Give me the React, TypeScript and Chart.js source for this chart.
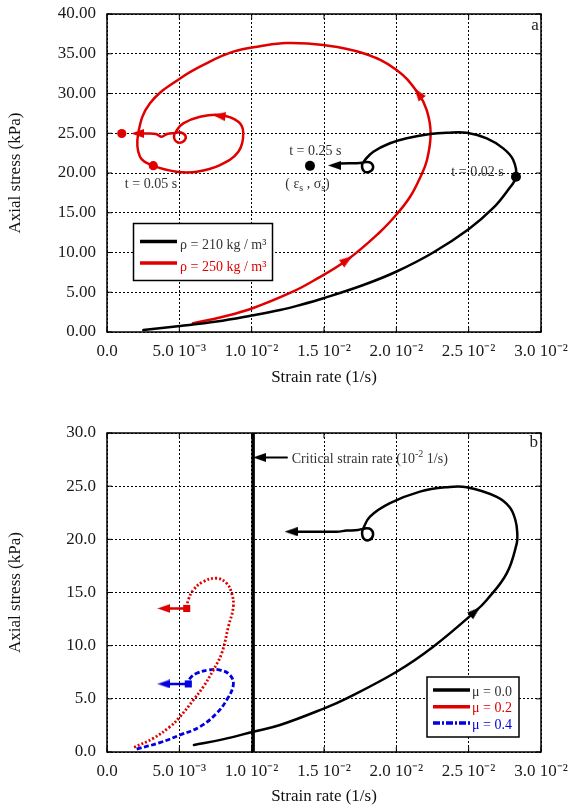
import React, { useEffect, useRef } from 'react';
import { Chart, registerables } from 'chart.js';

Chart.register(...registerables);

const FONT = "'Liberation Serif', 'Times New Roman', serif";
const RED = '#e00000';
const BLUE = '#0000e0';
const BLACK = '#000000';

// ---------- axis ticks ----------
const xTickValues = [0, 0.005, 0.01, 0.015, 0.02, 0.025, 0.03];
const xTickLabels = ['0.0', '5.0 10⁻³', '1.0 10⁻²', '1.5 10⁻²', '2.0 10⁻²', '2.5 10⁻²', '3.0 10⁻²'];
const yTickValuesA = [0, 5, 10, 15, 20, 25, 30, 35, 40];
const yTickLabelsA = ['0.00', '5.00', '10.00', '15.00', '20.00', '25.00', '30.00', '35.00', '40.00'];
const yTickValuesB = [0, 5, 10, 15, 20, 25, 30];
const yTickLabelsB = ['0.0', '5.0', '10.0', '15.0', '20.0', '25.0', '30.0'];

// ---------- panel a ----------
const rho210X = [0.00251, 0.00505, 0.00758, 0.01, 0.01196, 0.01334, 0.01502, 0.01772, 0.02002, 0.02255, 0.02502, 0.0267, 0.02772, 0.02827, 0.02808, 0.02739, 0.02625, 0.02486, 0.02348, 0.02233, 0.02072, 0.01956, 0.01841, 0.01783, 0.01763, 0.01776, 0.01811, 0.01839, 0.01825, 0.0179, 0.01749, 0.0161, 0.01573];
const rho210Y = [0.25, 0.75, 1.32, 2.08, 2.77, 3.4, 4.28, 5.91, 7.61, 10.0, 12.96, 15.6, 17.86, 19.53, 21.64, 23.1, 24.36, 25.07, 25.07, 24.9, 24.37, 23.74, 22.68, 21.64, 21.0, 20.25, 20.13, 20.63, 21.26, 21.38, 21.26, 21.19, 20.95];
const rho250X = [0.00594, 0.00795, 0.01002, 0.01265, 0.01424, 0.01659, 0.01887, 0.02004, 0.02094, 0.02163, 0.02212, 0.02237, 0.0221, 0.02152, 0.02002, 0.01772, 0.01495, 0.0124, 0.01058, 0.00873, 0.00684, 0.00505, 0.00297, 0.00216, 0.00228, 0.0032, 0.00482, 0.0062, 0.00781, 0.00908, 0.00942, 0.00908, 0.00781, 0.00643, 0.00527, 0.00484, 0.00463, 0.00491, 0.00532, 0.00543, 0.00511, 0.0047, 0.00415, 0.00378, 0.00339, 0.0027, 0.00211];
const rho250Y = [1.09, 1.89, 2.96, 4.91, 6.42, 9.06, 12.58, 14.84, 16.98, 19.37, 21.64, 25.03, 27.9, 30.0, 32.96, 35.06, 36.1, 36.35, 35.94, 35.26, 33.77, 31.9, 28.77, 25.0, 22.05, 20.92, 20.16, 20.16, 21.0, 22.68, 25.0, 26.45, 27.3, 27.08, 26.25, 25.41, 24.53, 23.84, 24.03, 24.65, 25.09, 25.03, 24.91, 24.57, 24.91, 24.97, 24.97];
const rho210DotX = [0.02827, 0.01403];
const rho210DotY = [19.53, 20.9];
const rho250DotX = [0.0032, 0.00102];
const rho250DotY = [20.92, 24.97];
const rho210ArrowX = [0.01573];
const rho210ArrowY = [20.95];
const rho210ArrowAngle = [-90];
const rho250ArrowX = [0.01659, 0.02152, 0.00774, 0.00211];
const rho250ArrowY = [9.06, 30.0, 27.2, 24.97];
const rho250ArrowAngle = [55, -37, -83, -90];

// ---------- panel b ----------
const mu0X = [0.00601, 0.008, 0.01011, 0.01196, 0.01502, 0.01657, 0.02002, 0.02255, 0.02544, 0.02625, 0.02763, 0.02832, 0.02836, 0.02825, 0.02785, 0.02694, 0.02486, 0.02348, 0.02163, 0.01956, 0.01818, 0.01772, 0.01763, 0.01776, 0.01814, 0.01839, 0.01825, 0.01787, 0.01735, 0.01657, 0.01588, 0.01334, 0.01272];
const mu0Y = [0.66, 1.19, 1.91, 2.54, 4.11, 5.05, 7.55, 9.9, 13.2, 14.3, 16.8, 19.6, 20.57, 21.7, 23.0, 24.0, 24.9, 24.9, 24.49, 23.4, 22.14, 21.04, 20.6, 20.04, 19.94, 20.41, 20.93, 21.03, 20.88, 20.82, 20.72, 20.72, 20.72];
const mu2X = [0.00187, 0.0032, 0.00435, 0.00505, 0.00597, 0.00666, 0.00735, 0.00793, 0.00839, 0.00873, 0.00862, 0.00827, 0.00758, 0.00666, 0.00597, 0.00562, 0.00551];
const mu2Y = [0.44, 1.29, 2.38, 3.32, 4.89, 6.14, 7.71, 9.28, 11.79, 13.67, 14.93, 15.87, 16.34, 16.02, 15.24, 14.3, 13.5];
const mu4X = [0.00205, 0.00366, 0.00505, 0.00643, 0.00758, 0.00827, 0.00873, 0.0085, 0.00781, 0.007, 0.0062, 0.00574, 0.00562];
const mu4Y = [0.28, 0.88, 1.6, 2.38, 3.64, 4.89, 6.3, 7.24, 7.71, 7.71, 7.4, 6.93, 6.4];
const mu2TailX = [0.00551, 0.00394];
const mu2TailY = [13.5, 13.5];
const mu4TailX = [0.00562, 0.00394];
const mu4TailY = [6.4, 6.4];
const criticalX = [0.0101, 0.0101];
const criticalY = [0, 30];
const criticalPointerX = [0.01244, 0.01054];
const criticalPointerY = [27.7, 27.7];
const mu0ArrowX = [0.02544, 0.01272];
const mu0ArrowY = [13.2, 20.72];
const mu0ArrowAngle = [49, -90];
const criticalArrowX = [0.01054];
const criticalArrowY = [27.7];
const mu2ArrowX = [0.00394];
const mu2ArrowY = [13.5];
const mu4ArrowX = [0.00394];
const mu4ArrowY = [6.4];
const leftAngle = [-90];

type Part = [string, string?];
type Note = { x: number; y: number; parts: Part[]; size: number; align: 'left' | 'center' | 'right'; color: string };

const notesA: Note[] = [
  { x: 0.0144, y: 22.77, parts: [['t = 0.25 s']], size: 14, align: 'center', color: '#333' },
  { x: 0.01386, y: 18.6, parts: [['( ε'], ['s', 'sub'], [' , σ'], ['s', 'sub'], [')']], size: 14, align: 'center', color: '#333' },
  { x: 0.02561, y: 20.13, parts: [['t = 0.02 s']], size: 14, align: 'center', color: '#333' },
  { x: 0.00304, y: 18.6, parts: [['t = 0.05 s']], size: 14, align: 'center', color: '#333' },
  { x: 0.02958, y: 38.6, parts: [['a']], size: 17, align: 'center', color: '#222' },
];
const notesB: Note[] = [
  { x: 0.0295, y: 29.07, parts: [['b']], size: 17, align: 'center', color: '#222' },
  { x: 0.01277, y: 27.53, parts: [['Critical strain rate (10'], ['-2', 'sup'], [' 1/s)']], size: 14, align: 'left', color: '#333' },
];

const pts = (xs: number[], ys: number[]) => xs.map((x, i) => ({ x, y: ys[i] }));

function drawRich(ctx: CanvasRenderingContext2D, parts: Part[], x: number, y: number, size: number, color: string, align: string) {
  ctx.save();
  ctx.fillStyle = color;
  ctx.textBaseline = 'middle';
  ctx.textAlign = 'left';
  const fontFor = (k?: string) => `${k ? Math.round(size * 0.68) : size}px ${FONT}`;
  let total = 0;
  for (const [t, k] of parts) {
    ctx.font = fontFor(k);
    total += ctx.measureText(t).width;
  }
  let cx = align === 'center' ? x - total / 2 : align === 'right' ? x - total : x;
  for (const [t, k] of parts) {
    ctx.font = fontFor(k);
    const dy = k === 'sub' ? size * 0.32 : k === 'sup' ? -size * 0.35 : 0;
    ctx.fillText(t, cx, y + dy);
    cx += ctx.measureText(t).width;
  }
  ctx.restore();
}

function makeArrow(color: string) {
  const c = document.createElement('canvas');
  const w = 9;
  const h = 13;
  c.width = w;
  c.height = h;
  const g = c.getContext('2d')!;
  g.fillStyle = color;
  g.beginPath();
  g.moveTo(w / 2, 0);
  g.lineTo(w, h);
  g.lineTo(0, h);
  g.closePath();
  g.fill();
  return c;
}

const framePlugin = {
  id: 'frame',
  afterDatasetsDraw(chart: any) {
    const { ctx, chartArea: a, scales } = chart;
    ctx.save();
    ctx.strokeStyle = '#000';
    ctx.lineWidth = 1;
    const t = 5;
    ctx.beginPath();
    scales.x.ticks.forEach((tk: any) => {
      const px = scales.x.getPixelForValue(tk.value);
      ctx.moveTo(px, a.bottom);
      ctx.lineTo(px, a.bottom - t);
      ctx.moveTo(px, a.top);
      ctx.lineTo(px, a.top + t);
    });
    scales.y.ticks.forEach((tk: any) => {
      const py = scales.y.getPixelForValue(tk.value);
      ctx.moveTo(a.left, py);
      ctx.lineTo(a.left + t, py);
      ctx.moveTo(a.right, py);
      ctx.lineTo(a.right - t, py);
    });
    ctx.stroke();
    ctx.lineWidth = 1.5;
    ctx.strokeRect(a.left, a.top, a.right - a.left, a.bottom - a.top);
    ctx.restore();
  },
};

function makeNotesPlugin(notes: Note[]) {
  return {
    id: 'notes',
    afterDatasetsDraw(chart: any) {
      const { ctx, scales } = chart;
      notes.forEach((n) => {
        drawRich(ctx, n.parts, scales.x.getPixelForValue(n.x), scales.y.getPixelForValue(n.y), n.size, n.color, n.align);
      });
    },
  };
}

type LegendBox = { left: number; top: number; right: number; bottom: number; x0: number; x1: number; textX: number; rows: number[]; textDy: number };

function makeLegendPlugin(box: LegendBox) {
  return {
    id: 'boxLegend',
    afterDraw(chart: any) {
      const { ctx } = chart;
      ctx.save();
      ctx.fillStyle = '#fff';
      ctx.fillRect(box.left, box.top, box.right - box.left, box.bottom - box.top);
      ctx.strokeStyle = '#000';
      ctx.lineWidth = 1.5;
      ctx.strokeRect(box.left, box.top, box.right - box.left, box.bottom - box.top);
      const items = chart.data.datasets.filter((d: any) => d.inLegend);
      items.forEach((d: any, i: number) => {
        const y = box.rows[i];
        ctx.save();
        ctx.strokeStyle = d.borderColor;
        ctx.lineWidth = 3.5;
        ctx.setLineDash(d.legendDash || []);
        ctx.beginPath();
        ctx.moveTo(box.x0, y);
        ctx.lineTo(box.x1, y);
        ctx.stroke();
        ctx.restore();
        drawRich(ctx, [[d.label]], box.textX, y + box.textDy, 14, d.legendTextColor, 'left');
      });
      ctx.restore();
    },
  };
}

function makeScales(yMin: number, yMax: number, yTicks: number[], yLabels: string[], xHeight: number, titleBottom: number) {
  const tickFont = { family: FONT, size: 17 };
  return {
    x: {
      type: 'linear',
      min: 0,
      max: 0.03,
      afterBuildTicks: (s: any) => {
        s.ticks = xTickValues.map((v) => ({ value: v }));
      },
      ticks: {
        callback: (_v: any, i: number) => xTickLabels[i],
        font: tickFont,
        color: '#1a1a1a',
        padding: 9,
        maxRotation: 0,
        autoSkip: false,
      },
      grid: { color: '#000', lineWidth: 1, drawTicks: false },
      border: { display: false, dash: [2, 2] },
      title: { display: true, text: 'Strain rate (1/s)', font: tickFont, color: '#111', padding: { top: 0, bottom: titleBottom } },
      afterFit: (s: any) => {
        s.height = xHeight;
        s.paddingLeft = 0;
        s.paddingRight = 0;
      },
    },
    y: {
      type: 'linear',
      min: yMin,
      max: yMax,
      afterBuildTicks: (s: any) => {
        s.ticks = yTicks.map((v) => ({ value: v }));
      },
      ticks: {
        callback: (_v: any, i: number) => yLabels[i],
        font: tickFont,
        color: '#1a1a1a',
        padding: 11,
        autoSkip: false,
      },
      grid: { color: '#000', lineWidth: 1, drawTicks: false },
      border: { display: false, dash: [2, 2] },
      title: { display: true, text: 'Axial stress (kPa)', font: tickFont, color: '#111', padding: { top: 5, bottom: 0 } },
      afterFit: (s: any) => {
        s.width = 107;
        s.paddingTop = 0;
        s.paddingBottom = 0;
      },
    },
  };
}

const curve = (label: string, data: any[], color: string, extra: any = {}) => ({
  type: 'line',
  label,
  data,
  showLine: true,
  borderColor: color,
  backgroundColor: color,
  borderWidth: 2.5,
  pointRadius: 0,
  tension: 0.4,
  cubicInterpolationMode: 'default',
  borderCapStyle: 'round',
  borderJoinStyle: 'round',
  fill: false,
  ...extra,
});

const marks = (data: any[], color: string, style: any, radius: number, rotation: number[] | number = 0) => ({
  type: 'scatter',
  data,
  showLine: false,
  pointStyle: style,
  pointRadius: radius,
  pointRotation: rotation,
  pointBackgroundColor: color,
  pointBorderColor: color,
  pointBorderWidth: 0,
});

export default function App() {
  const refA = useRef<HTMLCanvasElement>(null);
  const refB = useRef<HTMLCanvasElement>(null);

  useEffect(() => {
    const arrowBlack = makeArrow(BLACK);
    const arrowRed = makeArrow(RED);
    const arrowBlue = makeArrow(BLUE);

    const chartA = new Chart(refA.current as HTMLCanvasElement, {
      type: 'scatter',
      data: {
        datasets: [
          curve('ρ = 210 kg / m³', pts(rho210X, rho210Y), BLACK, { inLegend: true, legendTextColor: '#333' }),
          curve('ρ = 250 kg / m³', pts(rho250X, rho250Y), RED, { inLegend: true, legendTextColor: RED }),
          marks(pts(rho210DotX, rho210DotY), BLACK, 'circle', 5),
          marks(pts(rho250DotX, rho250DotY), RED, 'circle', 4.6),
          marks(pts(rho210ArrowX, rho210ArrowY), BLACK, arrowBlack, 7, rho210ArrowAngle),
          marks(pts(rho250ArrowX, rho250ArrowY), RED, arrowRed, 7, rho250ArrowAngle),
        ] as any,
      },
      options: {
        responsive: false,
        animation: false,
        devicePixelRatio: 1,
        events: [],
        layout: { padding: { left: 0, top: 14, right: 28, bottom: 0 } },
        plugins: { legend: { display: false }, tooltip: { enabled: false } },
        scales: makeScales(0, 40, yTickValuesA, yTickLabelsA, 68, 12) as any,
      },
      plugins: [
        framePlugin,
        makeNotesPlugin(notesA),
        makeLegendPlugin({ left: 133.5, top: 223.5, right: 272.5, bottom: 280.5, x0: 140, x1: 177, textX: 180, rows: [241.5, 263], textDy: 4 }),
      ],
    } as any);

    const chartB = new Chart(refB.current as HTMLCanvasElement, {
      type: 'scatter',
      data: {
        datasets: [
          curve('μ = 0.0', pts(mu0X, mu0Y), BLACK, { inLegend: true, legendTextColor: '#333' }),
          curve('μ = 0.2', pts(mu2X, mu2Y), RED, { inLegend: true, legendTextColor: RED, borderDash: [2, 2], borderCapStyle: 'butt', borderWidth: 2.8 }),
          curve('μ = 0.4', pts(mu4X, mu4Y), BLUE, { inLegend: true, legendTextColor: BLUE, borderDash: [5, 2.5], borderCapStyle: 'butt', borderWidth: 2.8, legendDash: [7, 2, 2, 2] }),
          curve('', pts(mu2TailX, mu2TailY), RED, { tension: 0 }),
          curve('', pts(mu4TailX, mu4TailY), BLUE, { tension: 0 }),
          curve('', pts(criticalX, criticalY), BLACK, { tension: 0, borderWidth: 3.5, borderCapStyle: 'butt' }),
          curve('', pts(criticalPointerX, criticalPointerY), BLACK, { tension: 0, borderWidth: 2 }),
          marks(pts([mu2X[mu2X.length - 1]], [mu2Y[mu2Y.length - 1]]), RED, 'rect', 5),
          marks(pts([mu4X[mu4X.length - 1]], [mu4Y[mu4Y.length - 1]]), BLUE, 'rect', 5),
          marks(pts(mu0ArrowX, mu0ArrowY), BLACK, arrowBlack, 7, mu0ArrowAngle),
          marks(pts(criticalArrowX, criticalArrowY), BLACK, arrowBlack, 7, leftAngle),
          marks(pts(mu2ArrowX, mu2ArrowY), RED, arrowRed, 7, leftAngle),
          marks(pts(mu4ArrowX, mu4ArrowY), BLUE, arrowBlue, 7, leftAngle),
        ] as any,
      },
      options: {
        responsive: false,
        animation: false,
        devicePixelRatio: 1,
        events: [],
        layout: { padding: { left: 0, top: 33, right: 28, bottom: 0 } },
        plugins: { legend: { display: false }, tooltip: { enabled: false } },
        scales: makeScales(0, 30, yTickValuesB, yTickLabelsB, 56, 1) as any,
      },
      plugins: [
        framePlugin,
        makeNotesPlugin(notesB),
        makeLegendPlugin({ left: 427, top: 277, right: 519, bottom: 337, x0: 433, x1: 470, textX: 472, rows: [290, 306.7, 323], textDy: 2 }),
      ],
    } as any);

    return () => {
      chartA.destroy();
      chartB.destroy();
    };
  }, []);

  return (
    <div style={{ position: 'absolute', left: 0, top: 0, width: 569, height: 808, background: '#fff' }}>
      <canvas ref={refA} width={569} height={400} style={{ position: 'absolute', left: 0, top: 0 }} />
      <canvas ref={refB} width={569} height={408} style={{ position: 'absolute', left: 0, top: 400 }} />
    </div>
  );
}
